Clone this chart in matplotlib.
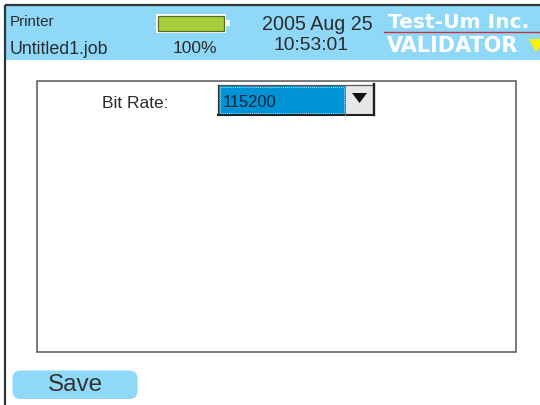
import matplotlib
matplotlib.use('Agg')
import matplotlib.pyplot as plt
from matplotlib.patches import Rectangle, FancyBboxPatch, Polygon

# Text and values shown on the screen
device_name = "Printer"
job_name = "Untitled1.job"
battery_percent = 100
battery_label = "100%"
date_label = "2005 Aug 25"
time_label = "10:53:01"
brand_name = "Test-Um Inc."
product_name = "VALIDATOR"
field_label = "Bit Rate:"
field_value = "115200"
button_label = "Save"

HEADER = '#8FD8F8'
DARK = '#2B2B2B'
plt.rcParams['font.family'] = ['Liberation Sans', 'DejaVu Sans']

fig = plt.figure(figsize=(5.4, 4.06), dpi=100)
ax = fig.add_axes([0, 0, 1, 1])
ax.set_xlim(0, 540)
ax.set_ylim(406, 0)
ax.axis('off')

# Header band and window frame
ax.add_patch(Rectangle((5, 6), 535, 54.5, fc=HEADER, ec='none'))
ax.plot([5, 540], [6, 6], color='#333333', lw=1.6, solid_capstyle='butt')
ax.plot([5, 5], [6, 406], color='#333333', lw=1.6, solid_capstyle='butt')

ax.text(10, 21.5, device_name, fontsize=10.9, color=DARK, va='center', ha='left')
ax.text(10, 49, job_name, fontsize=12.8, color=DARK, va='center', ha='left')

# Battery gauge
ax.add_patch(Rectangle((155.5, 14.5), 70, 19, fc='white', ec='none'))
ax.add_patch(Rectangle((225, 21), 5, 6, fc='white', ec='none'))
ax.add_patch(Rectangle((157.5, 16.5), 66 * battery_percent / 100, 15.5,
                       fc='#A6CE39', ec='#5A6B1E', lw=0.9))
ax.text(195, 48.5, battery_label, fontsize=12.5, color=DARK, va='center', ha='center')

ax.text(317, 24.5, date_label, fontsize=14.1, color=DARK, va='center', ha='center')
ax.text(311, 45.5, time_label, fontsize=13.9, color=DARK, va='center', ha='center')

# Logo
ax.text(388, 22.5, brand_name, fontsize=14.6, color='white', fontweight='bold',
        family='DejaVu Sans', va='center', ha='left')
ax.plot([384, 540], [33, 33], color='#C8323C', lw=1.0)
ax.text(387, 46.5, product_name, fontsize=15, color='white', fontweight='bold',
        family='DejaVu Sans', va='center', ha='left')
ax.add_patch(Polygon([[529, 40], [540, 40], [540, 48], [536, 53]], fc='#FFF200', ec='none'))

# Main panel
ax.add_patch(Rectangle((37, 82), 479, 271, fc='white', ec='#555555', lw=1.1))
ax.text(102.5, 103, field_label, fontsize=12.5, color=DARK, va='center', ha='left')

# Drop-down box
ax.add_patch(Rectangle((217.5, 85.5), 127, 30, fc='#0093D6', ec='none'))
ax.add_patch(Rectangle((344.5, 85.5), 29, 30, fc='#E6E7E8', ec='none'))
ax.add_patch(Rectangle((219.5, 87.5), 124, 26, fc='none', ec='white', lw=0.6, ls=(0, (1, 1.5))))
ax.plot([217.5, 373.5], [85.5, 85.5], color='#555555', lw=0.9)
ax.plot([217.5, 217.5], [85.5, 115.5], color='#333333', lw=0.9)
ax.plot([217.5, 373.5], [115.5, 115.5], color='#222222', lw=1.5)
ax.plot([373.5, 373.5], [85, 116], color='#222222', lw=1.7)
ax.plot([344.5, 344.5], [85.5, 115.5], color='#777777', lw=0.7)
ax.add_patch(Polygon([[352, 94], [367, 94], [359.5, 104]], fc='#111111', ec='none'))
ax.text(223, 102.5, field_value, fontsize=11.9, color='#10243A', va='center', ha='left')

# Save button
ax.add_patch(FancyBboxPatch((12.5, 371.5), 125, 28.5, boxstyle='round,pad=0,rounding_size=8',
                            fc=HEADER, ec='none'))
ax.text(75, 385.5, button_label, fontsize=17.5, color='#333333',
        va='center', ha='center')

fig.savefig('out.png', dpi=100)
